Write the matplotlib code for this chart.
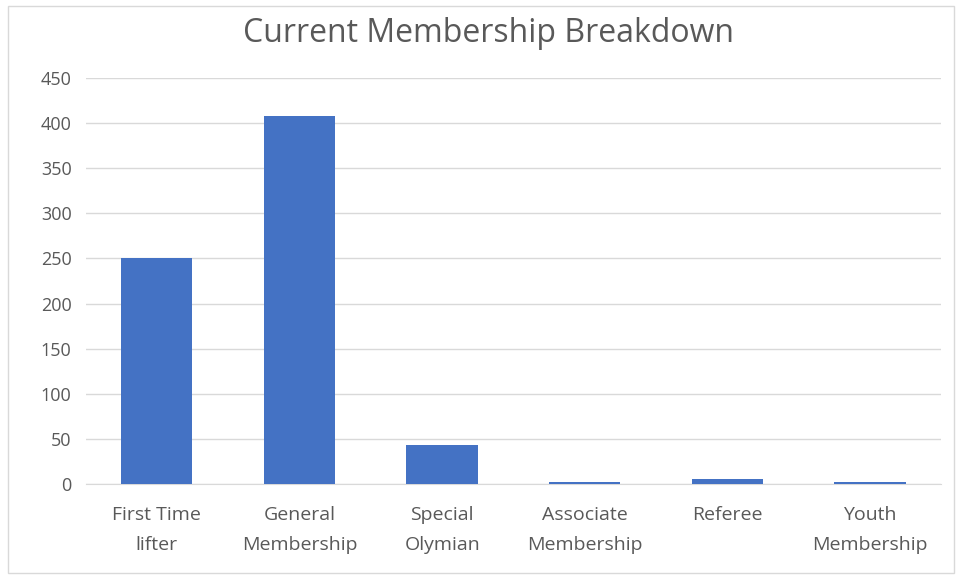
import matplotlib.pyplot as plt
from matplotlib.patches import Rectangle

categories = ['First Time\nlifter', 'General\nMembership', 'Special\nOlymian',
              'Associate\nMembership', 'Referee', 'Youth\nMembership']
members = [250, 408, 43, 2, 5, 2]
yticks = [0, 50, 100, 150, 200, 250, 300, 350, 400, 450]

plt.rcParams['font.family'] = ['Open Sans', 'DejaVu Sans']
txt = '#595959'

fig = plt.figure(figsize=(9.58, 5.77), dpi=100)
ax = fig.add_axes([85.5 / 958, 1 - 484 / 577, 856 / 958, 406 / 577])

x = range(len(categories))
ax.bar(x, members, width=0.5, color='#4472c4', zorder=3)

ax.set_xlim(-0.5, len(categories) - 0.5)
ax.set_ylim(0, 450)
ax.set_yticks(yticks)
ax.set_xticks(list(x))
ax.set_xticklabels(categories, color=txt, fontsize=14, linespacing=1.85)
ax.tick_params(axis='y', colors=txt, labelsize=13, length=0, pad=10)
ax.tick_params(axis='x', length=0, pad=16)
ax.grid(axis='y', color='#d9d9d9', linewidth=1, zorder=0)
for s in ['top', 'right', 'left']:
    ax.spines[s].set_visible(False)
ax.spines['bottom'].set_color('#d9d9d9')

fig.text(488 / 958, 1 - 34 / 577, 'Current Membership Breakdown',
         ha='center', va='center', fontsize=23, color=txt)

# light chart border
fig.patches.append(Rectangle((8 / 958, 4 / 577), 946 / 958, 567 / 577,
                             transform=fig.transFigure, fill=False,
                             edgecolor='#d9d9d9', linewidth=1))

fig.savefig('out.png', dpi=100)
